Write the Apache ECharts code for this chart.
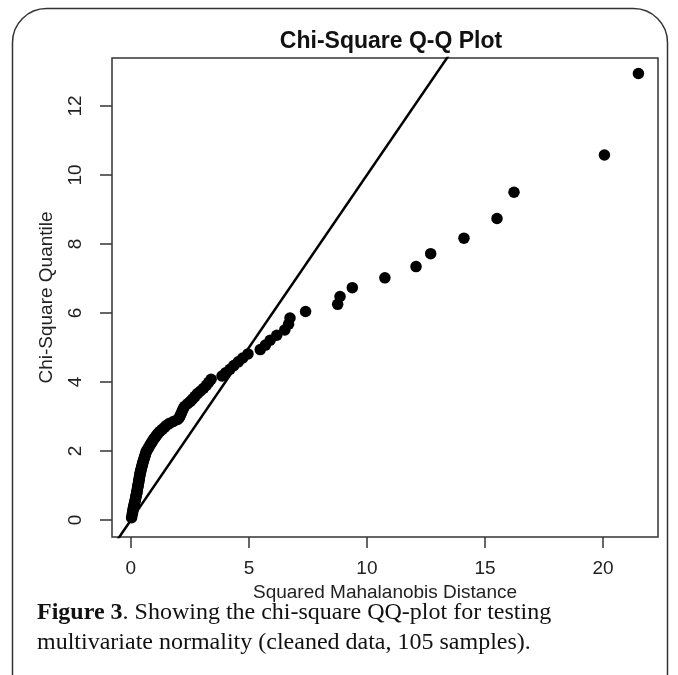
<!DOCTYPE html>
<html>
<head>
<meta charset="utf-8">
<script src="https://cdn.jsdelivr.net/npm/echarts@6/dist/echarts.min.js"></script>
<style>
html,body{margin:0;padding:0;background:#fff;}
#chart{width:678px;height:675px;}
</style>
</head>
<body>
<div id="chart"></div>
<script>
// Squared Mahalanobis distances (x), sorted
var mahalanobis = [
  0.03, 0.05, 0.07, 0.08, 0.10, 0.11, 0.13, 0.14, 0.16, 0.17,
  0.19, 0.20, 0.21, 0.22, 0.24, 0.25, 0.26, 0.27, 0.28, 0.29,
  0.30, 0.31, 0.32, 0.33, 0.34, 0.35, 0.36, 0.37, 0.38, 0.39,
  0.40, 0.42, 0.43, 0.45, 0.46, 0.48, 0.50, 0.51, 0.53, 0.55,
  0.57, 0.59, 0.61, 0.63, 0.65, 0.69, 0.73, 0.77, 0.81, 0.85,
  0.90, 0.94, 0.99, 1.05, 1.10, 1.16, 1.24, 1.33, 1.42, 1.50,
  1.62, 1.80, 1.98, 2.06, 2.10, 2.14, 2.18, 2.22, 2.28, 2.40,
  2.52, 2.62, 2.72, 2.82, 2.95, 3.08, 3.20, 3.30, 3.40, 3.86,
  4.02, 4.20, 4.36, 4.55, 4.74, 4.96, 5.48, 5.70, 5.90, 6.18,
  6.52, 6.68, 6.74, 7.40, 8.76, 8.86, 9.38, 10.76, 12.08, 12.70,
  14.11, 15.51, 16.23, 20.06, 21.50
];
// Chi-square quantiles (y)
var chiQuantile = [
  0.069, 0.148, 0.209, 0.264, 0.316, 0.365, 0.412, 0.458, 0.503, 0.547,
  0.584, 0.626, 0.668, 0.709, 0.750, 0.790, 0.830, 0.870, 0.910, 0.950,
  0.985, 1.025, 1.065, 1.105, 1.145, 1.185, 1.225, 1.263, 1.303, 1.343,
  1.383, 1.424, 1.466, 1.508, 1.549, 1.591, 1.633, 1.676, 1.718, 1.761,
  1.805, 1.849, 1.894, 1.938, 1.984, 2.030, 2.076, 2.122, 2.170, 2.218,
  2.267, 2.316, 2.366, 2.417, 2.468, 2.521, 2.574, 2.629, 2.684, 2.740,
  2.797, 2.857, 2.915, 2.977, 3.040, 3.103, 3.167, 3.232, 3.300, 3.370,
  3.440, 3.511, 3.586, 3.665, 3.741, 3.822, 3.907, 3.994, 4.082, 4.175,
  4.272, 4.371, 4.477, 4.585, 4.698, 4.816, 4.940, 5.070, 5.210, 5.355,
  5.510, 5.675, 5.855, 6.045, 6.251, 6.480, 6.735, 7.020, 7.345, 7.720,
  8.170, 8.740, 9.500, 10.580, 12.940
];
var xTicks = [0, 5, 10, 15, 20];
var yTicks = [0, 2, 4, 6, 8, 10, 12];
// reference line y = x
var refLine = [[-2, -2], [15, 15]];

var points = mahalanobis.map(function (v, i) { return [v, chiQuantile[i]]; });

var chart = echarts.init(document.getElementById('chart'), null, {renderer: 'canvas'});
var font = 'Liberation Sans, Arial, sans-serif';
var serif = 'Liberation Serif, Times New Roman, serif';
chart.setOption({
  animation: false,
  backgroundColor: '#fff',
  title: {
    text: 'Chi-Square Q-Q Plot',
    left: 386, top: 25, textAlign: 'center',
    textStyle: {fontFamily: font, fontWeight: 'bold', fontSize: 23, color: '#111'}
  },
  grid: {
    left: 112, top: 58, right: 20, bottom: 138,
    show: true, borderColor: '#333', borderWidth: 1.5, backgroundColor: 'transparent'
  },
  xAxis: {
    type: 'value', min: -0.8, max: 22.33,
    splitLine: {show: false},
    axisLine: {show: false, onZero: false},
    axisTick: {show: true, inside: false, length: 11, customValues: xTicks, lineStyle: {color: '#333', width: 1.5}},
    axisLabel: {customValues: xTicks, margin: 22, fontFamily: font, fontSize: 19, color: '#222'},
    name: 'Squared Mahalanobis Distance', nameLocation: 'middle', nameGap: 40,
    nameTextStyle: {fontFamily: font, fontSize: 19, color: '#222'}
  },
  yAxis: {
    type: 'value', min: -0.49, max: 13.39,
    splitLine: {show: false},
    axisLine: {show: false, onZero: false},
    axisTick: {show: true, inside: false, length: 12, customValues: yTicks, lineStyle: {color: '#333', width: 1.5}},
    axisLabel: {customValues: yTicks, rotate: 90, margin: 27, fontFamily: font, fontSize: 19, color: '#222'},
    name: 'Chi-Square Quantile', nameLocation: 'middle', nameGap: 56, nameRotate: 90,
    nameTextStyle: {fontFamily: font, fontSize: 19, color: '#222'}
  },
  graphic: [
    {type: 'rect', shape: {x: 12.5, y: 8.5, width: 655, height: 700, r: 34}, silent: true, z: -10,
     style: {fill: 'none', stroke: '#333', lineWidth: 1.5}},
    {type: 'text', left: 37, top: 601, silent: true,
     style: {rich: {b: {fontWeight: 'bold', fontFamily: serif, fontSize: 24, fill: '#111'},
                    n: {fontFamily: serif, fontSize: 24, fill: '#111'}},
             text: '{b|Figure 3}{n|. Showing the chi-square QQ-plot for testing}', fill: '#111'}},
    {type: 'text', left: 37, top: 631, silent: true,
     style: {text: 'multivariate normality (cleaned data, 105 samples).', fontFamily: serif, fontSize: 24, fill: '#111'}}
  ],
  series: [
    {type: 'line', data: refLine, symbol: 'none', clip: true, silent: true,
     lineStyle: {color: '#000', width: 2.5}, z: 2},
    {type: 'scatter', data: points, symbol: 'circle', symbolSize: 11.5,
     itemStyle: {color: '#000', opacity: 1}, z: 3}
  ]
});
</script>
</body>
</html>
